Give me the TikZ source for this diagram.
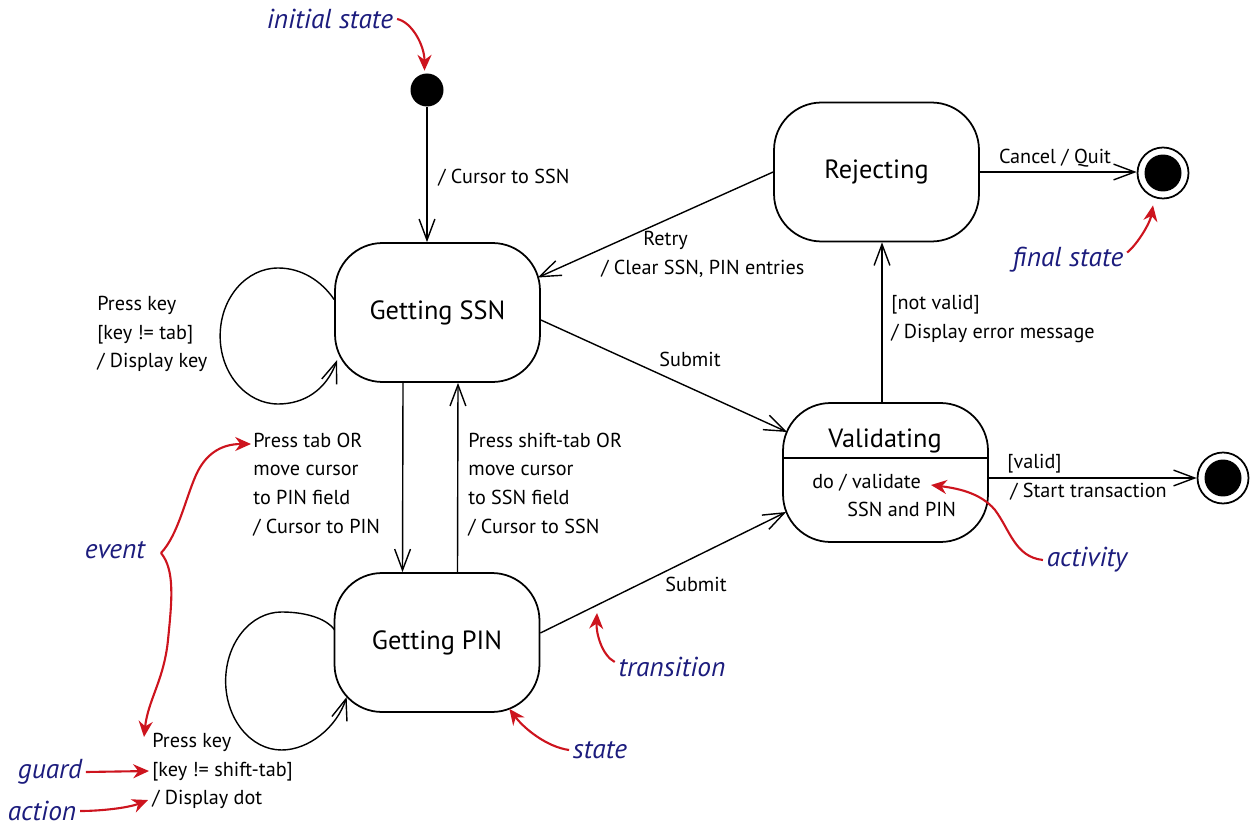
\documentclass[tikz,border=0pt]{standalone}
\usepackage{fontspec}
\setmainfont{PT Sans}
\usetikzlibrary{arrows.meta,calc}
\definecolor{annred}{RGB}{205,20,30}
\definecolor{annblue}{RGB}{28,28,125}
\begin{document}
\begin{tikzpicture}[x=0.02cm,y=-0.02cm,
  lbl/.style={font=\fontsize{11.5}{16.4}\selectfont, inner sep=0pt, align=left},
  ann/.style={font=\fontsize{15.6}{18}\selectfont\itshape, text=annblue, inner sep=2pt},
  st/.style={draw, line width=1pt, rounded corners=0.95cm, minimum width=4.1cm, minimum height=2.78cm, font=\fontsize{15}{18}\selectfont, inner sep=0pt},
  tr/.style={line width=0.8pt, -{Straight Barb[length=12pt,width=9pt]}},
  redarr/.style={draw=annred, line width=1.2pt, -{Stealth[length=9pt,width=8pt]}},
  fin/.style={circle, draw, line width=1pt, minimum size=1.02cm, inner sep=0pt}]
\useasboundingbox (0,0) rectangle (1253,827);

% states
\node[circle, fill, minimum size=0.66cm, inner sep=0pt] (init) at (427,90) {};
\node[st] (ssn) at (437.5,312.5) {Getting SSN};
\node[st] (pin) at (437,642.5) {Getting PIN};
\node[st] (rej) at (876.5,172) {Rejecting};
\node[st] (val) at (885.5,472.5) {};
\node[font=\fontsize{15}{18}\selectfont, inner sep=0pt] (vname) at (885,441) {Validating};
\coordinate (dv) at (0,458);
\draw[line width=1pt] (val.west |- dv) -- (val.east |- dv);
\node[lbl, anchor=west] (act) at (812,495.5) {do / validate\\\hspace*{0.7cm}SSN and PIN};
\node[fin] (fin1) at (1163,173) {};
\fill (fin1) circle (0.37cm);
\node[fin] (fin2) at (1223,478) {};
\fill (fin2) circle (0.37cm);

% transitions
\draw[tr] (init) -- (init |- ssn.north);
\node[lbl, anchor=west] (l1) at (438,178) {/ Cursor to SSN};

\draw[tr, shift={(ssn.west)}] (0,-13) .. controls (-13,-32) and (-33,-44.5) .. (-56,-44.5)
  .. controls (-88,-44.5) and (-114,-14.5) .. (-114,23.5)
  .. controls (-114,61) and (-88,91.5) .. (-56,91.5)
  .. controls (-30,91.5) and (-8,77.5) .. (3,47.5);
\node[lbl, anchor=west] (l2) at (97,334) {Press key\\{[key != tab]}\\/ Display key};

\draw[tr, shift={(pin.west)}] (1,-12.5) .. controls (-8,-25) and (-30,-30.5) .. (-52,-30.5)
  .. controls (-83,-30.5) and (-108,0.5) .. (-108,38.5)
  .. controls (-108,76.5) and (-83,107.5) .. (-52,107.5)
  .. controls (-25,107.5) and (3,85) .. (13,54.5);
\node[lbl, anchor=west] (pl) at (152,771) {Press key\\{[key != shift-tab]}\\/ Display dot};

\draw[tr] ([xshift=-0.69cm]ssn.south) -- ([xshift=-0.69cm]pin.north);
\node[lbl, anchor=west] (l3) at (253,484.5) {Press tab OR\\move cursor\\to PIN field\\/ Cursor to PIN};
\draw[tr] ([xshift=0.41cm]pin.north) -- ([xshift=0.41cm]ssn.south);
\node[lbl, anchor=west] (l4) at (468,484.5) {Press shift-tab OR\\move cursor\\to SSN field\\/ Cursor to SSN};

\draw[tr] (rej.west) -- ([xshift=-0.06cm,yshift=0.7cm]ssn.east);
\node[lbl, anchor=west] (l5) at (601,254.5) {\hspace*{0.84cm}Retry\\/ Clear SSN, PIN entries};

\draw[tr] ([yshift=-0.15cm]ssn.east) -- ([xshift=0.1cm,yshift=0.81cm]val.west);
\node[lbl] (l6) at (690,359) {Submit};
\draw[tr] ([yshift=0.19cm]pin.east) -- ([xshift=0.08cm,yshift=-0.79cm]val.west);
\node[lbl] (l7) at (696,584) {Submit};

\coordinate (nv) at ([xshift=-0.07cm]val.north);
\draw[tr] (nv) -- (nv |- rej.south);
\node[lbl, anchor=west] (l8) at (891,319) {{[not valid]}\\/ Display error message};

\draw[tr] (rej.east) -- (rej.east -| fin1.west);
\node[lbl] (l9) at (1055,158) {Cancel / Quit};

\draw[tr] (val.east |- fin2) -- (fin2.west);
\node[lbl, anchor=west] (l10) at (1007,477) {{[valid]}\\\hspace*{0.06cm}/ Start transaction};

% annotations
\node[ann] (il) at (330,19) {initial state};
\draw[redarr] (il.east) .. controls +(15,3) and +(0,-25) .. ([xshift=-0.05cm,yshift=0.05cm]init.north);
\node[ann] (fl) at (1068,260) {final state};
\draw[redarr] ([yshift=0.15cm]fl.east) .. controls +(10,-8) and +(-3,18) .. ([xshift=-0.2cm,yshift=-0.12cm]fin1.south);
\node[ann] (el) at (115,550) {event};
\coordinate (piv) at (161,553);
\coordinate (evtop) at (251,444);
\coordinate (evbot) at (144,737);
\draw[redarr] (piv) .. controls (178,535) and (185,500) .. (196,475) .. controls (205,455) and (220,444) .. (evtop);
\draw[redarr] (piv) .. controls (175,570) and (172,600) .. (168,640) .. controls (164,680) and (148,700) .. (evbot);
\node[ann] (gl) at (50,772) {guard};
\draw[redarr] (gl.east) -- ([xshift=-0.06cm]pl.west);
\node[ann] (al) at (42,811) {action};
\draw[redarr] (al.east) .. controls +(20,0) and +(-20,8) .. ([xshift=-0.08cm,yshift=-0.58cm]pl.west);
\node[ann] (sl) at (600,750) {state};
\draw[redarr] (sl.west) .. controls +(-22,-3) and +(15,20) .. ([xshift=-0.62cm,yshift=0.08cm]pin.south east);
\node[ann] (tl) at (672,667) {transition};
\coordinate (trtip) at (597,613);
\draw[redarr] ([yshift=0.1cm]tl.west) .. controls +(-13,-7) and +(-1,20) .. (trtip);
\node[ann] (acl) at (1087,560) {activity};
\coordinate (actip) at (931,485);
\draw[redarr] (acl.west) .. controls (1015,557) and (1010,530) .. (995,510) .. controls (980,492) and (955,488) .. (actip);
\end{tikzpicture}
\end{document}
